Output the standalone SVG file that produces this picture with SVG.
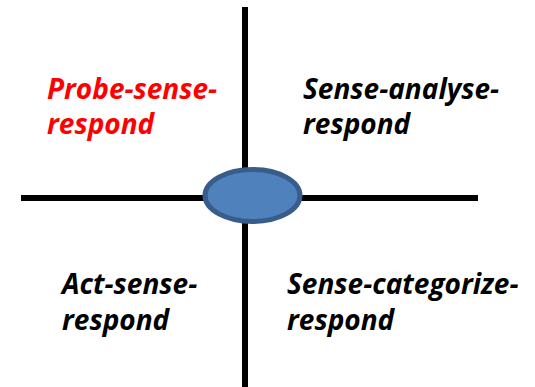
<svg xmlns="http://www.w3.org/2000/svg" width="535" height="387" viewBox="0 0 535 387">
<style>
.ax{stroke:#000;stroke-width:6;fill:none}
.t{font-family:"Open Sans","Liberation Sans",sans-serif;font-weight:bold;font-style:italic;font-size:28px;fill:#000}
.red{fill:#FF0000}
</style>
<rect width="535" height="387" fill="#fff"/>
<g id="connectors">
<line class="ax" x1="245" y1="7" x2="245" y2="387"/>
<line class="ax" x1="21" y1="198" x2="478" y2="198"/>
</g>
<g id="center">
<ellipse cx="252.5" cy="195.5" rx="47.5" ry="26" fill="#4F81BD" stroke="#385D8A" stroke-width="5"/>
</g>
<g id="q1">
<text class="t red" x="47" y="99">Probe-sense-</text>
<text class="t red" x="47" y="134">respond</text>
</g>
<g id="q2">
<text class="t" x="303" y="99">Sense-analyse-</text>
<text class="t" x="303" y="134">respond</text>
</g>
<g id="q3">
<text class="t" x="62" y="294">Act-sense-</text>
<text class="t" x="62" y="330">respond</text>
</g>
<g id="q4">
<text class="t" x="287" y="294">Sense-categorize-</text>
<text class="t" x="287" y="330">respond</text>
</g>
</svg>
